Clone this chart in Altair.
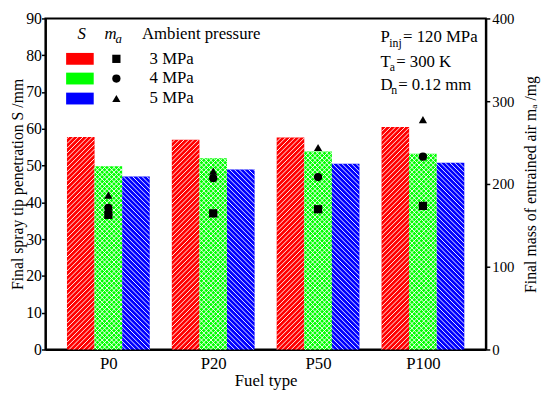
import math
import altair as alt
import pandas as pd

# ---------------- data ----------------
fuels = ["P0", "P20", "P50", "P100"]
pressures = ["3 MPa", "4 MPa", "5 MPa"]
S_3MPa = [57.8, 57.0, 57.6, 60.5]
S_4MPa = [49.8, 52.0, 53.8, 53.2]
S_5MPa = [47.0, 48.9, 50.5, 50.8]
ma_3MPa = [162.7, 164.5, 169.5, 173.5]
ma_4MPa = [171.0, 207.0, 208.3, 233.0]
ma_5MPa = [186.5, 215.5, 244.0, 277.8]

bar_colors = ["#FF0000", "#00FF00", "#0000FF"]
hatch_kinds = ["/", "x", "\\"]
shapes = ["square", "circle", "triangle-up"]

# ---------------- layout ----------------
W, H = 447, 336
XMIN, XMAX = -0.6, 3.6
YMAX_L, YMAX_R = 90, 400
PX_PER_X = W / (XMAX - XMIN)
BW = 28 / PX_PER_X  # bar width in x units
FONT = "Liberation Serif"
SPACING = 4.8


def to_px(x, y):
    return (x - XMIN) * PX_PER_X, y / YMAX_L * H


def to_data(px, py):
    return XMIN + px / PX_PER_X, py / H * YMAX_L


def hatch(x0, x1, y0, y1, kind, key):
    segs = []
    dirs = ["/", "\\"] if kind == "x" else [kind]
    for d in dirs:
        if d == "/":
            c = math.floor((x0 - y1) / SPACING) * SPACING
            while c <= x1 - y0:
                xa, xb = max(x0, y0 + c), min(x1, y1 + c)
                if xb - xa > 0.3:
                    a = to_data(xa, xa - c)
                    b = to_data(xb, xb - c)
                    segs.append(dict(x=a[0], y=a[1], x2=b[0], y2=b[1], key=key))
                c += SPACING
        else:
            c = math.floor((x0 + y0) / SPACING) * SPACING
            while c <= x1 + y1:
                xa, xb = max(x0, c - y1), min(x1, c - y0)
                if xb - xa > 0.3:
                    a = to_data(xa, c - xa)
                    b = to_data(xb, c - xb)
                    segs.append(dict(x=a[0], y=a[1], x2=b[0], y2=b[1], key=key))
                c += SPACING
    return segs


S_all = [S_3MPa, S_4MPa, S_5MPa]
ma_all = [ma_3MPa, ma_4MPa, ma_5MPa]

bar_rows, pt_rows, hatch_rows = [], [], []
for i, f in enumerate(fuels):
    for k, p in enumerate(pressures):
        xs = i + (k - 1) * BW - BW / 2
        xe = xs + BW
        bar_rows.append(dict(fuel=f, pressure=p, xs=xs, xe=xe, S=S_all[k][i]))
        pt_rows.append(dict(fuel=f, pressure=p, xc=i, ma=ma_all[k][i]))
        px0, py0 = to_px(xs, 0)
        px1, py1 = to_px(xe, S_all[k][i])
        hatch_rows += hatch(px0, px1, py0, py1, hatch_kinds[k], p)

# legend swatches (pixel layout inside plot, y measured from bottom)
leg_sw = []
sw_tops = [35, 55, 75.3]
for k, p in enumerate(pressures):
    top = sw_tops[k]
    x0, x1 = 21, 49
    y1, y0 = H - top, H - top - 12
    a = to_data(x0, y0)
    b = to_data(x1, y1)
    leg_sw.append(dict(pressure=p, xs=a[0], xe=b[0], ys=a[1], ye=b[1]))
    hatch_rows += hatch(x0, x1, y0, y1, hatch_kinds[k], p)

bars_df = pd.DataFrame(bar_rows)
pts_df = pd.DataFrame(pt_rows)
hatch_df = pd.DataFrame(hatch_rows)
legsw_df = pd.DataFrame(leg_sw)

xscale = alt.Scale(domain=[XMIN, XMAX], nice=False, zero=False)
yscale = alt.Scale(domain=[0, YMAX_L], nice=False)
color_scale = alt.Scale(domain=pressures, range=bar_colors)

common_axis = dict(labelFont=FONT, titleFont=FONT,
                   labelColor="black", titleColor="black", titleFontWeight="normal",
                   domainColor="black", domainWidth=2, tickColor="black", tickWidth=1.5,
                   grid=False, labelOverlap=False)

x_axis = alt.Axis(values=[0, 1, 2, 3], labelExpr="['P0','P20','P50','P100'][datum.value]",
                  ticks=False, labelPadding=6, labelFontSize=17, title="Fuel type",
                  titleFontSize=17, titlePadding=2, **common_axis)
y_axis = alt.Axis(values=list(range(0, 91, 10)), tickSize=4, labelPadding=0, labelFontSize=16,
                  title="Final spray tip penetration S /mm", titleFontSize=16, titlePadding=0,
                  **common_axis)

bars = alt.Chart(bars_df).mark_rect(stroke=None).encode(
    x=alt.X("xs:Q", scale=xscale, axis=x_axis),
    x2="xe:Q",
    y=alt.Y("S:Q", scale=yscale, axis=y_axis),
    y2=alt.datum(0),
    color=alt.Color("pressure:N", scale=color_scale, legend=None),
)

hatch_layer = alt.Chart(hatch_df).mark_rule(color="white", strokeWidth=1.0, opacity=0.95).encode(
    x=alt.X("x:Q", scale=xscale, axis=x_axis), x2="x2:Q",
    y=alt.Y("y:Q", scale=yscale, axis=y_axis), y2="y2:Q",
)

leg_rect = alt.Chart(legsw_df).mark_rect().encode(
    x=alt.X("xs:Q", scale=xscale, axis=x_axis), x2="xe:Q",
    y=alt.Y("ys:Q", scale=yscale, axis=y_axis), y2="ye:Q",
    color=alt.Color("pressure:N", scale=color_scale, legend=None),
)

texts = []


def txt(s, x, y, size=17, style="normal", align="left"):
    return alt.Chart(pd.DataFrame({"t": [s]})).mark_text(
        font=FONT, fontSize=size, fontStyle=style, align=align, baseline="middle", color="black"
    ).encode(text="t:N", x=alt.value(x), y=alt.value(y))


leg_y = [41, 61, 81.3]
for k, p in enumerate(pressures):
    texts.append(txt(p, 105.7, leg_y[k]))
    texts.append(
        alt.Chart(pd.DataFrame({"s": [shapes[k]]})).mark_point(filled=True, color="black", opacity=1, size=70)
        .encode(x=alt.value(72), y=alt.value(leg_y[k]), shape=alt.Shape("s:N", scale=None))
    )

texts += [
    txt("S", 36.7, 16.3, style="italic", align="center"),
    txt("m", 60, 16.3, style="italic"),
    txt("a", 71, 21, size=13, style="italic"),
    txt("Ambient pressure", 98, 16.3),
    txt("P", 340, 19.3),
    txt("inj", 349, 24.5, size=12),
    txt("= 120 MPa", 363, 19.3),
    txt("T", 340, 44.3),
    txt("a", 349.5, 49.5, size=12),
    txt("= 300 K", 356, 44.3),
    txt("D", 340, 67.6),
    txt("n", 351, 72.8, size=12),
    txt("= 0.12 mm", 358, 67.6),
]

left = alt.layer(bars, hatch_layer, leg_rect, *texts)

points = alt.Chart(pts_df).mark_point(filled=True, color="black", opacity=1, size=70).encode(
    x=alt.X("xc:Q", scale=xscale, axis=x_axis),
    y=alt.Y("ma:Q", scale=alt.Scale(domain=[0, YMAX_R], nice=False),
            axis=alt.Axis(orient="right", values=[0, 100, 200, 300, 400], tickSize=4,
                          labelPadding=2, labelFontSize=15, title="Final mass of entrained air mₐ /mg",
                          titleFontSize=16, titleAngle=270, titleBaseline="top", titlePadding=9,
                          **common_axis)),
    shape=alt.Shape("pressure:N", scale=alt.Scale(domain=pressures, range=shapes), legend=None),
)

chart = alt.layer(left, points).resolve_scale(y="independent").properties(
    width=W, height=H,
    autosize=alt.AutoSizeParams(type="none"),
    padding={"left": 38, "top": 7.7, "right": 57, "bottom": 45},
).configure(font=FONT).configure_axis(labelFont=FONT, titleFont=FONT).configure_text(font=FONT
).configure_view(stroke="black", strokeWidth=2)

chart.save("out.html", embed_options={"renderer": "svg", "actions": False})
